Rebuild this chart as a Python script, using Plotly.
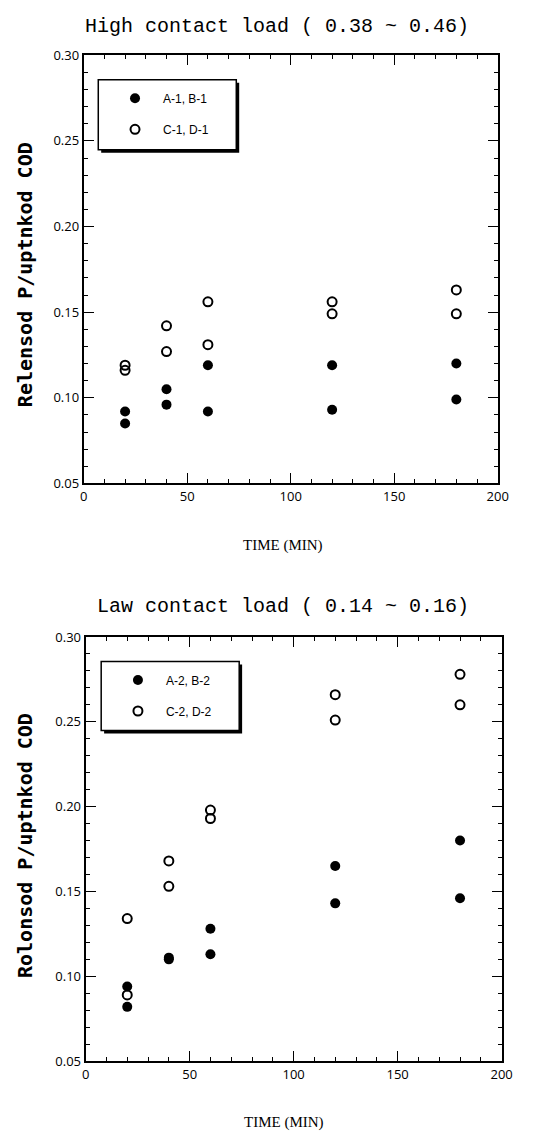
import plotly.graph_objects as go

# Sampling times (min), two replicate readings per time
time_pts = [20, 20, 40, 40, 60, 60, 120, 120, 180, 180]

# High contact load (0.38 ~ 0.46)
high_ab = [0.092, 0.085, 0.105, 0.096, 0.119, 0.092, 0.119, 0.093, 0.120, 0.099]
high_cd = [0.119, 0.116, 0.142, 0.127, 0.156, 0.131, 0.156, 0.149, 0.163, 0.149]

# Low contact load (0.14 ~ 0.16)
low_ab = [0.094, 0.082, 0.111, 0.110, 0.128, 0.113, 0.165, 0.143, 0.180, 0.146]
low_cd = [0.134, 0.089, 0.168, 0.153, 0.198, 0.193, 0.266, 0.251, 0.278, 0.260]

W, H = 534, 1142


def px(x):
    return x / W


def py(y):
    return 1 - y / H


LEG_FONT = dict(family="Liberation Sans", size=12, color="black")

fig = go.Figure()

filled = dict(symbol="circle", size=10, color="black")
hollow = dict(symbol="circle-open", size=9, color="black", line=dict(width=2, color="black"))

# upper panel
fig.add_trace(go.Scatter(x=time_pts, y=high_cd, mode="markers", marker=hollow,
                         name="C-1, D-1", legend="legend", legendrank=2,
                         legendgroup="h2", xaxis="x", yaxis="y"))
fig.add_trace(go.Scatter(x=time_pts, y=high_ab, mode="markers", marker=filled,
                         name="A-1, B-1", legend="legend", legendrank=1,
                         legendgroup="h1", xaxis="x", yaxis="y"))
# lower panel
fig.add_trace(go.Scatter(x=time_pts, y=low_cd, mode="markers", marker=hollow,
                         name="C-2, D-2", legend="legend2", legendrank=2,
                         legendgroup="l2", xaxis="x2", yaxis="y2"))
fig.add_trace(go.Scatter(x=time_pts, y=low_ab, mode="markers", marker=filled,
                         name="A-2, B-2", legend="legend2", legendrank=1,
                         legendgroup="l1", xaxis="x2", yaxis="y2"))

top_dom_x = [px(82), px(508)]
top_dom_y = [py(482), py(47)]
bot_dom_x = [px(84), px(512)]
bot_dom_y = [py(1069), py(638)]


def x_axis(domain, anchor):
    return dict(domain=domain, anchor=anchor, range=[0, 200], dtick=50,
                showline=True, linewidth=2, linecolor="black", mirror="ticks",
                ticks="inside", ticklen=10, tickcolor="black",
                minor=dict(ticks="inside", ticklen=4, dtick=10),
                showgrid=False, zeroline=False,
                tickfont=dict(size=13, color="black"))


def y_axis(domain, anchor):
    return dict(domain=domain, anchor=anchor, range=[0.05, 0.30], dtick=0.05,
                tickformat=".2f",
                showline=True, linewidth=2, linecolor="black", mirror="ticks",
                ticks="inside", ticklen=10, tickcolor="black",
                minor=dict(ticks="inside", ticklen=4, dtick=0.01),
                showgrid=False, zeroline=False,
                tickfont=dict(size=13, color="black"))


def legend_box(x0, y0, x1, y1):
    return [
        dict(type="rect", xref="paper", yref="paper", layer="above",
             x0=px(x0 + 3), x1=px(x1 + 3), y0=py(y1 + 3), y1=py(y0 + 3),
             fillcolor="black", line=dict(width=0)),
        dict(type="rect", xref="paper", yref="paper", layer="above",
             x0=px(x0), x1=px(x1), y0=py(y1), y1=py(y0),
             fillcolor="white", line=dict(color="black", width=1.5)),
    ]


def legend_cfg(x, y):
    return dict(x=px(x), y=py(y), xanchor="left", yanchor="top",
                bgcolor="rgba(0,0,0,0)", borderwidth=0, font=LEG_FONT,
                traceorder="grouped", tracegroupgap=12, itemwidth=46)


annotations = [
    dict(text="High contact load ( 0.38 ~ 0.46)", x=px(281), y=py(18),
         font=dict(family="Liberation Mono", size=20, color="black")),
    dict(text="Law contact load ( 0.14 ~ 0.16)", x=px(287), y=py(607),
         font=dict(family="Liberation Mono", size=20, color="black")),
    dict(text="TIME (MIN)", x=px(287), y=py(545),
         font=dict(family="Liberation Serif", size=15, color="black")),
    dict(text="TIME (MIN)", x=px(288), y=py(1131),
         font=dict(family="Liberation Serif", size=15, color="black")),
    dict(text="<b>Relensod P/uptnkod COD</b>", x=px(21), y=py(270), textangle=-90,
         font=dict(family="DejaVu Sans Mono", size=20, color="black")),
    dict(text="<b>Rolonsod P/uptnkod COD</b>", x=px(21), y=py(850), textangle=-90,
         font=dict(family="DejaVu Sans Mono", size=20, color="black")),
]
for a in annotations:
    a.update(xref="paper", yref="paper", showarrow=False,
             xanchor="center", yanchor="middle")

fig.update_layout(
    width=W, height=H, margin=dict(l=0, r=0, t=0, b=0),
    paper_bgcolor="white", plot_bgcolor="white",
    xaxis=x_axis(top_dom_x, "y"), yaxis=y_axis(top_dom_y, "x"),
    xaxis2=x_axis(bot_dom_x, "y2"), yaxis2=y_axis(bot_dom_y, "x2"),
    legend=legend_cfg(106, 76),
    legend2=legend_cfg(109, 667),
    shapes=legend_box(97, 72, 239, 143) + legend_box(100, 663, 242, 733),
    annotations=annotations,
    showlegend=True,
)

fig.write_html("out.html")
